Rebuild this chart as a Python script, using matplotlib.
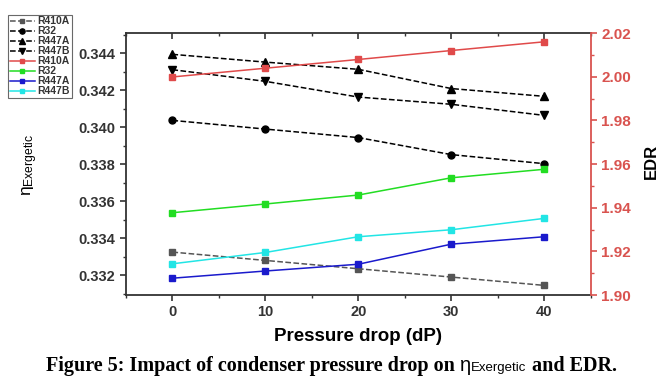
import matplotlib
matplotlib.use('Agg')
import matplotlib.pyplot as plt
from matplotlib.ticker import MultipleLocator, FormatStrFormatter

plt.rcParams['font.family'] = ['Liberation Sans', 'DejaVu Sans']
plt.rcParams['mathtext.fontset'] = 'custom'
plt.rcParams['mathtext.rm'] = 'Liberation Sans'
plt.rcParams['mathtext.it'] = 'Liberation Sans'

# pressure drop (dP)
dp = [0, 10, 20, 30, 40]

# exergetic efficiency (left axis)
eta_r410a = [0.33324, 0.33279, 0.33234, 0.33189, 0.33144]
eta_r32 = [0.34036, 0.33989, 0.33943, 0.33851, 0.33802]
eta_r447a = [0.34393, 0.34351, 0.34312, 0.34208, 0.34166]
eta_r447b = [0.34310, 0.34247, 0.34162, 0.34123, 0.34063]

# EDR (right axis)
edr_r410a = [1.9999, 2.0039, 2.0079, 2.0120, 2.0160]
edr_r32 = [1.9377, 1.9417, 1.9458, 1.9537, 1.9576]
edr_r447a = [1.9077, 1.9110, 1.9141, 1.9233, 1.9267]
edr_r447b = [1.9143, 1.9195, 1.9267, 1.9299, 1.9351]

red = '#d9534f'
tick_grey = '#333333'

fig = plt.figure(figsize=(6.63, 3.89), dpi=100)
ax = fig.add_axes([0.190, 0.2416, 0.701, 0.6734])
ax2 = ax.twinx()

lines = []
lines += ax.plot(dp, eta_r410a, '--s', color='#555555', ms=4.5, lw=1.1, label='R410A')
lines += ax.plot(dp, eta_r32, '--o', color='black', ms=5, lw=1.1, label='R32')
lines += ax.plot(dp, eta_r447a, '--^', color='black', ms=6, lw=1.1, label='R447A')
lines += ax.plot(dp, eta_r447b, '--v', color='black', ms=6, lw=1.1, label='R447B')

lines += ax2.plot(dp, edr_r410a, '-s', color='#e04a4a', ms=4.5, lw=1.1, label='R410A')
lines += ax2.plot(dp, edr_r32, '-s', color='#22dd22', ms=4.5, lw=1.1, label='R32')
lines += ax2.plot(dp, edr_r447a, '-s', color='#1a1acc', ms=4.5, lw=1.1, label='R447A')
lines += ax2.plot(dp, edr_r447b, '-s', color='#22e5e5', ms=4.5, lw=1.1, label='R447B')

ax.set_xlim(-5, 45)
ax.set_ylim(0.33092, 0.34508)
ax2.set_ylim(1.90, 2.02)

ax.xaxis.set_major_locator(MultipleLocator(10))
ax.xaxis.set_minor_locator(MultipleLocator(5))
ax.yaxis.set_major_locator(MultipleLocator(0.002))
ax.yaxis.set_minor_locator(MultipleLocator(0.001))
ax.yaxis.set_major_formatter(FormatStrFormatter('%.3f'))
ax2.yaxis.set_major_locator(MultipleLocator(0.02))
ax2.yaxis.set_minor_locator(MultipleLocator(0.01))
ax2.yaxis.set_major_formatter(FormatStrFormatter('%.2f'))

ax.tick_params(axis='both', which='major', length=4, width=1.2, colors=tick_grey,
               labelsize=10.5, direction='out')
ax.tick_params(axis='both', which='minor', length=2.5, width=1.0, colors=tick_grey)
ax.tick_params(axis='x', which='both', top=True)
ax.xaxis.set_tick_params(which='both', direction='out')
# top ticks point inward
for tk in ax.xaxis.get_major_ticks() + ax.xaxis.get_minor_ticks():
    tk.tick2line.set_marker(matplotlib.lines.TICKDOWN)
for t in ax.get_xticklabels() + ax.get_yticklabels():
    t.set_fontweight('bold')

ax2.tick_params(axis='y', which='major', length=4, width=1.2, colors=red, labelsize=11)
ax2.tick_params(axis='y', which='minor', length=2.5, width=1.0, colors=red)
for t in ax2.get_yticklabels():
    t.set_fontweight('bold')

for s in ['left', 'bottom', 'top']:
    ax.spines[s].set_linewidth(1.3)
    ax.spines[s].set_color(tick_grey)
ax2.spines['right'].set_color(red)
ax2.spines['right'].set_linewidth(1.3)
ax2.spines['top'].set_visible(False)
ax2.spines['left'].set_visible(False)
ax2.spines['bottom'].set_visible(False)
ax.spines['right'].set_visible(False)

ax.set_xlabel('Pressure drop (dP)', fontsize=13.5, fontweight='bold', labelpad=6)
fig.text(0.045, 0.575, r'$\eta_{\mathrm{Exergetic}}$', rotation=90, fontsize=12.5,
         ha='center', va='center')
fig.text(0.983, 0.586, 'EDR', rotation=90, fontsize=12, fontweight='bold',
         ha='center', va='center')

leg = fig.legend(handles=lines, loc='upper left', bbox_to_anchor=(0.012, 0.962),
                 fontsize=7.5, frameon=True, handlelength=2.4, handletextpad=0.3,
                 labelspacing=0.0, borderpad=0.15, borderaxespad=0, markerscale=0.75)
leg.get_frame().set_edgecolor('#444444')
leg.get_frame().set_linewidth(0.8)
leg.get_frame().set_boxstyle('square', pad=0)
for t in leg.get_texts():
    t.set_color(tick_grey)
    t.set_fontweight('bold')

# caption assembled from pieces
fig.canvas.draw()
r = fig.canvas.get_renderer()
pieces = [
    ('Figure 5: Impact of condenser pressure drop on ', dict(family='Liberation Serif', fontweight='bold', fontsize=14.5)),
    ('\u03b7', dict(family='Liberation Sans', fontsize=14.5)),
    ('Exergetic', dict(family='Liberation Sans', fontsize=9.5)),
    (' and EDR.', dict(family='Liberation Serif', fontweight='bold', fontsize=14.5)),
]
texts = []
for s, kw in pieces:
    texts.append(fig.text(0, 0.045, s, ha='left', va='baseline', **kw))
widths = [t.get_window_extent(r).width for t in texts]
total = sum(widths)
x = (663 / 2 - total / 2) / 663
for t, w in zip(texts, widths):
    t.set_x(x)
    x += w / 663

fig.savefig('out.png', dpi=100)
